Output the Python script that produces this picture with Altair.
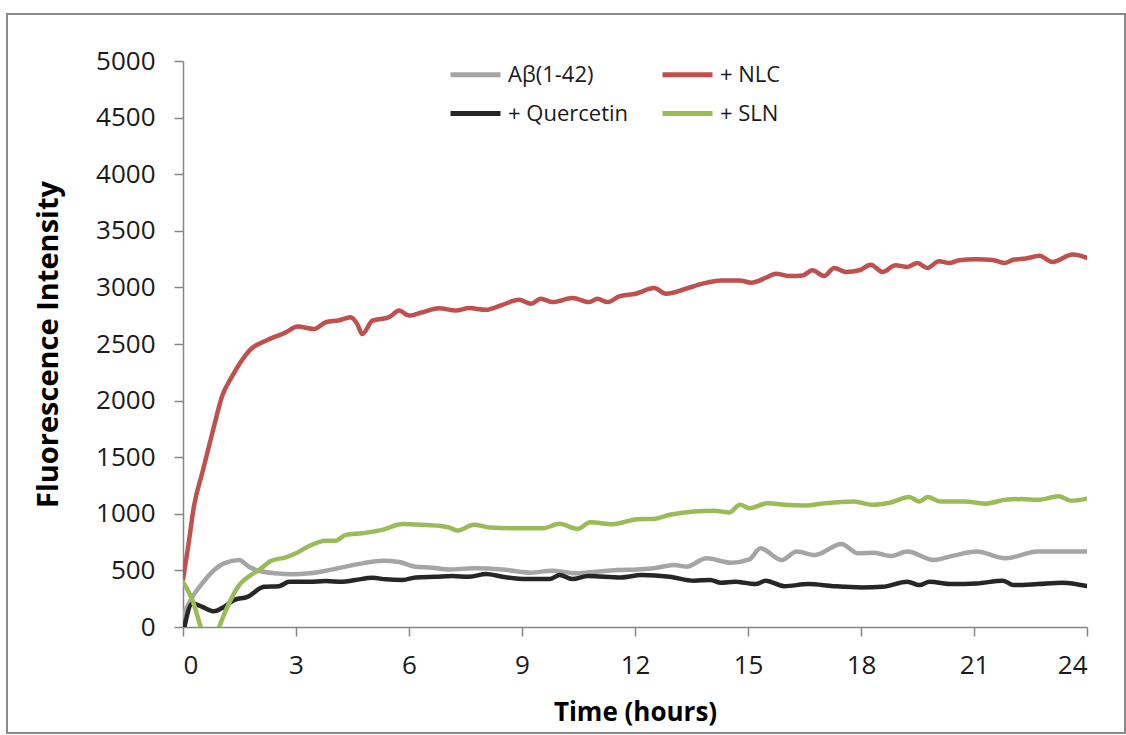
import altair as alt
import pandas as pd

series_names = ["Aβ(1-42)", "+ NLC", "+ Quercetin", "+ SLN"]
series_colors = ["#A5A5A5", "#C0504D", "#262626", "#9BBB59"]

# Aβ(1-42)
ab_t = [0, 0.25, 0.51, 0.78, 1.09, 1.49, 1.75, 2.02, 2.46, 2.9, 3.35, 3.79, 4.23, 4.76, 5.29, 5.74,
        6.18, 6.62, 7.07, 7.72, 8.48, 9.24, 9.79, 10.44, 10.98, 11.52, 12.06, 12.49, 13.04, 13.36,
        13.9, 14.55, 15.04, 15.33, 15.9, 16.29, 16.78, 17.48, 17.92, 18.35, 18.79, 19.23, 19.93,
        20.42, 21.07, 21.83, 22.7, 23.35, 24.0]
ab_v = [104, 266, 385, 488, 562, 592, 532, 497, 474, 465, 474, 497, 527, 562, 586, 574,
        532, 524, 509, 518, 509, 480, 498, 474, 489, 503, 509, 518, 547, 533,
        607, 568, 598, 695, 592, 666, 636, 734, 651, 657, 627, 666, 592,
        627, 666, 607, 666, 666, 666]

# + NLC
nlc_t = [0, 0.15, 0.29, 0.51, 0.78, 1.04, 1.31, 1.55, 1.8, 2.2, 2.73, 3.04, 3.48, 3.79, 4.15, 4.45,
         4.62, 4.76, 5.03, 5.47, 5.74, 6.0, 6.36, 6.8, 7.24, 7.6, 8.04, 8.48, 8.92, 9.24, 9.5, 9.81,
         10.34, 10.79, 11.0, 11.27, 11.58, 12.02, 12.51, 12.82, 13.35, 13.79, 14.28, 14.77, 15.08,
         15.52, 15.74, 16.1, 16.45, 16.71, 17.02, 17.29, 17.6, 17.95, 18.26, 18.57, 18.92, 19.23,
         19.5, 19.76, 20.07, 20.34, 20.61, 21.05, 21.5, 21.8, 22.07, 22.38, 22.74, 23.08, 23.62, 24.0]
nlc_v = [415, 740, 1065, 1361, 1716, 2041, 2218, 2350, 2455, 2529, 2603, 2654, 2633, 2692, 2710, 2737,
         2680, 2588, 2706, 2737, 2795, 2751, 2781, 2816, 2795, 2817, 2802, 2846, 2891, 2855, 2900, 2870,
         2906, 2870, 2900, 2870, 2920, 2944, 2994, 2944, 2988, 3033, 3062, 3062, 3042,
         3092, 3121, 3101, 3106, 3151, 3101, 3172, 3137, 3151, 3201, 3137, 3195, 3181,
         3216, 3172, 3231, 3216, 3240, 3248, 3243, 3216, 3246, 3255, 3279, 3225, 3290, 3261]

# + Quercetin
q_t = [0, 0.25, 0.51, 0.82, 1.09, 1.35, 1.71, 2.15, 2.55, 2.82, 3.35, 3.79, 4.23, 4.58, 5.03, 5.38,
       5.83, 6.18, 6.71, 7.15, 7.6, 8.05, 8.48, 9.13, 9.73, 10.0, 10.33, 10.76, 11.63, 12.17, 12.92,
       13.57, 14.0, 14.28, 14.66, 15.2, 15.47, 15.96, 16.61, 17.26, 18.02, 18.57, 19.23, 19.55, 19.82,
       20.42, 21.07, 21.77, 22.05, 22.7, 23.35, 24.0]
q_v = [-60, 208, 178, 139, 178, 237, 266, 355, 361, 399, 399, 406, 399, 415, 435, 421,
       415, 438, 444, 450, 444, 468, 444, 423, 423, 459, 423, 450, 438, 459, 444,
       409, 415, 391, 400, 379, 409, 361, 379, 361, 349, 355, 400, 370, 400,
       379, 385, 409, 370, 379, 391, 361]

# + SLN
sln_t = [0, 0.25, 0.47, 0.72, 0.96, 1.22, 1.49, 1.8, 2.02, 2.33, 2.73, 3.0, 3.35, 3.79, 4.05, 4.32,
         4.76, 5.29, 5.83, 6.36, 6.8, 7.06, 7.28, 7.72, 8.15, 8.8, 9.56, 9.99, 10.48, 10.81, 11.41,
         12.06, 12.49, 12.92, 13.57, 14.12, 14.5, 14.79, 15.04, 15.53, 15.96, 16.51, 17.05, 17.81,
         18.3, 18.79, 19.28, 19.55, 19.77, 20.1, 20.75, 21.29, 21.83, 22.27, 22.7, 23.25, 23.58, 24.0]
sln_v = [399, 237, 0, -250, 0, 208, 370, 459, 503, 583, 616, 651, 716, 763, 763, 814,
         829, 858, 909, 903, 894, 880, 852, 903, 879, 873, 873, 912, 867, 926, 908,
         952, 955, 991, 1021, 1027, 1012, 1080, 1050, 1094, 1080, 1074, 1094, 1109,
         1080, 1100, 1148, 1109, 1148, 1109, 1109, 1089, 1124, 1130, 1124, 1154, 1115, 1133]

x_ticks = [0, 3, 6, 9, 12, 15, 18, 21, 24]
y_ticks = [0, 500, 1000, 1500, 2000, 2500, 3000, 3500, 4000, 4500, 5000]

frames = []
for name, ts, vs in zip(series_names, [ab_t, nlc_t, q_t, sln_t], [ab_v, nlc_v, q_v, sln_v]):
    frames.append(pd.DataFrame({"t": ts, "v": vs, "series": name}))
df = pd.concat(frames, ignore_index=True)

FONT = "Open Sans"
AXIS_GRAY = "#868686"

lines = alt.Chart(df).mark_line(
    clip=True, interpolate="monotone", strokeWidth=4.5, strokeCap="round", strokeJoin="round"
).encode(
    x=alt.X("t:Q",
            scale=alt.Scale(domain=[0, 24], nice=False, zero=False),
            axis=alt.Axis(values=x_ticks, title="Time (hours)", grid=False, format="d",
                          labelPadding=16, titlePadding=21, titleFontSize=26)),
    y=alt.Y("v:Q",
            scale=alt.Scale(domain=[0, 5000], nice=False),
            axis=alt.Axis(values=y_ticks, title="Fluorescence Intensity", grid=False, format="d",
                          labelPadding=19, titlePadding=32, titleFontSize=29)),
    color=alt.Color("series:N",
                    scale=alt.Scale(domain=series_names, range=series_colors),
                    sort=series_names,
                    legend=alt.Legend(title=None, orient="none", legendX=265, legendY=-14,
                                      columns=2, direction="horizontal",
                                      symbolType="stroke", symbolSize=2500,
                                      symbolStrokeWidth=5, labelFont=FONT, labelFontSize=22,
                                      labelColor="#1a1a1a", columnPadding=23, rowPadding=-13,
                                      labelOffset=5)),
    detail="series:N",
)

frame = alt.Chart(pd.DataFrame({"k": [0]})).mark_rect(
    fill=None, fillOpacity=0, stroke="#8a8a8a", strokeWidth=2
).encode(
    x=alt.value(-176), x2=alt.value(942), y=alt.value(-47), y2=alt.value(672)
)

chart = alt.layer(frame, lines).properties(
    width=904, height=566,
    autosize=alt.AutoSizeParams(type="none"),
    padding={"left": 183, "top": 61, "right": 39, "bottom": 108},
    background="white",
).configure_view(stroke=None).configure_axis(
    labelFont=FONT, labelFontSize=26, labelColor="#1a1a1a",
    titleFont=FONT, titleFontWeight="bold", titleColor="#000000",
    domainColor=AXIS_GRAY, tickColor=AXIS_GRAY, domainWidth=1.5, tickWidth=1.5, tickSize=9,
)

chart.save("out.html", embed_options={"renderer": "svg", "actions": False})
